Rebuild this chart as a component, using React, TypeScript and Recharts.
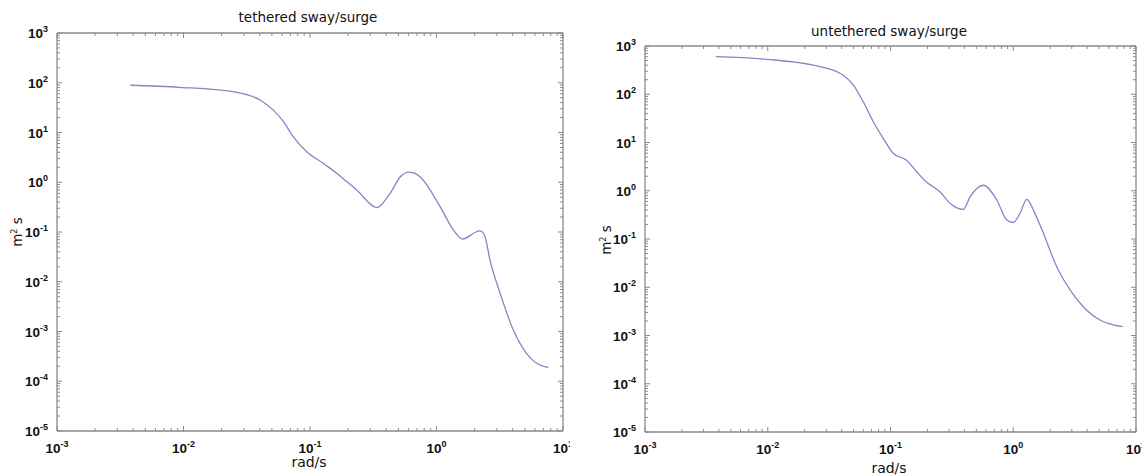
import React from "react";
import { Line, LineChart, XAxis, YAxis } from "recharts";

// Spectra (rad/s vs m^2 s), log-log.
const tetheredFreq = [
  0.0038, 0.0093, 0.0248, 0.0403, 0.0513, 0.0617, 0.0738, 0.0942, 0.127, 0.163,
  0.195, 0.234, 0.337, 0.43, 0.52, 0.6, 0.66, 0.74, 1.07, 1.36, 1.61, 2.05, 2.2,
  2.4, 2.65, 3.18, 4.05, 5.16, 6.19, 7.66,
];
const tetheredPsd = [
  89, 81, 66, 45, 28.2, 16.5, 8.2, 4.1, 2.4, 1.51, 1.03, 0.7, 0.31, 0.6, 1.3,
  1.6, 1.55, 1.29, 0.32, 0.11, 0.072, 0.1, 0.105, 0.085, 0.027, 0.0059,
  0.00107, 0.00036, 0.00023, 0.00019,
];

const untetheredFreq = [
  0.00377, 0.0098, 0.0235, 0.0388, 0.0498, 0.06, 0.0724, 0.0873, 0.105, 0.135,
  0.163, 0.197, 0.223, 0.253, 0.305, 0.392, 0.445, 0.57, 0.733, 0.885, 1.0,
  1.135, 1.29, 1.5, 1.76, 2.26, 2.9, 3.72, 5.09, 6.53, 7.78,
];
const untetheredPsd = [
  600, 530, 400, 272, 155, 70, 27, 12.2, 6.0, 4.3, 2.5, 1.5, 1.21, 0.955, 0.55,
  0.41, 0.75, 1.3, 0.65, 0.248, 0.22, 0.34, 0.665, 0.34, 0.131, 0.0267, 0.0088,
  0.00395, 0.00209, 0.00166, 0.00152,
];

const xDecades = [-3, -2, -1, 0, 1];
const yDecades = [-5, -4, -3, -2, -1, 0, 1, 2, 3];

const FRAME = "#8a8a8a";
const LINE = "#8585c9";

function logTicks(decades: number[]) {
  const out: number[] = [];
  const last = decades[decades.length - 1];
  decades.forEach((e) => {
    for (let m = 1; m <= 9; m++) {
      if (e === last && m > 1) break;
      out.push(m * Math.pow(10, e));
    }
  });
  return out;
}

const xTicks = logTicks(xDecades);
const yTicks = logTicks(yDecades);

function isMajor(v: number) {
  const l = Math.log10(v);
  return Math.abs(l - Math.round(l)) < 1e-6;
}

const tickFont = "'Liberation Sans', Arial, sans-serif";

function makeTick(side: "bottom" | "left" | "top" | "right", labels: boolean) {
  return (props: any) => {
    const { x, y, payload } = props;
    const v = payload.value;
    const major = isMajor(v);
    const len = major ? 5 : 3;
    let line;
    if (side === "bottom") line = <line x1={x} y1={y} x2={x} y2={y - len} />;
    else if (side === "top") line = <line x1={x} y1={y} x2={x} y2={y + len} />;
    else if (side === "left") line = <line x1={x} y1={y} x2={x + len} y2={y} />;
    else line = <line x1={x} y1={y} x2={x - len} y2={y} />;

    let label = null;
    if (labels && major) {
      const exp = Math.round(Math.log10(v));
      const common = { fill: "#111", fontFamily: tickFont, fontWeight: 700, fontSize: 13.5 };
      const pos =
        side === "bottom"
          ? { x, y: y + 22, textAnchor: "middle" }
          : { x: x - 9, y: y + 5, textAnchor: "end" };
      label = (
        <text {...pos} {...common}>
          <tspan>10</tspan>
          <tspan dy={-6} fontSize={9}>{exp}</tspan>
        </text>
      );
    }
    return (
      <g>
        <g stroke={FRAME} strokeWidth={1}>{line}</g>
        {label}
      </g>
    );
  };
}

function SpectrumPlot({
  freq,
  psd,
  width,
  height,
  margin,
}: {
  freq: number[];
  psd: number[];
  width: number;
  height: number;
  margin: { top: number; right: number; bottom: number; left: number };
}) {
  const data = freq.map((f, i) => ({ f, psd: psd[i] }));
  // axes take 1px each, so the chart margins are one less than the plot edges
  const m = {
    top: margin.top - 1,
    right: margin.right - 1,
    bottom: margin.bottom - 1,
    left: margin.left - 1,
  };
  const xCommon = {
    type: "number" as const,
    dataKey: "f",
    scale: "log" as const,
    domain: [1e-3, 10],
    allowDataOverflow: true,
    ticks: xTicks,
    interval: 0,
    tickSize: 0,
    tickMargin: 0,
    height: 1,
    axisLine: { stroke: FRAME, strokeWidth: 1.3 },
    tickLine: false,
  };
  const yCommon = {
    type: "number" as const,
    scale: "log" as const,
    domain: [1e-5, 1e3],
    allowDataOverflow: true,
    ticks: yTicks,
    interval: 0,
    tickSize: 0,
    tickMargin: 0,
    width: 1,
    axisLine: { stroke: FRAME, strokeWidth: 1.3 },
    tickLine: false,
  };
  return (
    <LineChart width={width} height={height} data={data} margin={m}>
      <XAxis xAxisId="b" orientation="bottom" {...xCommon} tick={makeTick("bottom", true)} />
      <XAxis xAxisId="t" orientation="top" {...xCommon} tick={makeTick("top", false)} />
      <YAxis yAxisId="l" orientation="left" dataKey="psd" {...yCommon} tick={makeTick("left", true)} />
      <YAxis yAxisId="r" orientation="right" dataKey="psd" {...yCommon} tick={makeTick("right", false)} />
      <Line
        xAxisId="b"
        yAxisId="l"
        type="monotone"
        dataKey="psd"
        stroke={LINE}
        strokeWidth={1.3}
        dot={false}
        isAnimationActive={false}
      />
      <Line
        xAxisId="t"
        yAxisId="r"
        dataKey="psd"
        stroke="none"
        dot={false}
        legendType="none"
        isAnimationActive={false}
      />
    </LineChart>
  );
}

const textFont = "'DejaVu Sans', Verdana, sans-serif";

function Caption({ cx, cy, text, size, rotate }: { cx: number; cy: number; text: React.ReactNode; size: number; rotate?: boolean }) {
  return (
    <div
      style={{
        position: "absolute",
        left: cx - 80,
        top: cy - 7,
        width: 160,
        height: 14,
        lineHeight: "14px",
        textAlign: "center",
        fontFamily: textFont,
        fontSize: size,
        color: "#111",
        transform: rotate ? "rotate(-90deg)" : undefined,
        whiteSpace: "nowrap",
      }}
    >
      {text}
    </div>
  );
}

const m2s = (
  <span>
    m<sup style={{ fontSize: 8, verticalAlign: 5 }}>2</sup> s
  </span>
);

export default function App() {
  return (
    <div style={{ position: "absolute", left: 0, top: 0, width: 1142, height: 475, background: "#fff" }}>
      <div style={{ position: "absolute", left: 0, top: 0 }}>
        <SpectrumPlot
          freq={tetheredFreq}
          psd={tetheredPsd}
          width={570}
          height={475}
          margin={{ top: 33, right: 7, bottom: 44, left: 57 }}
        />
      </div>
      <div style={{ position: "absolute", left: 570, top: 0 }}>
        <SpectrumPlot
          freq={untetheredFreq}
          psd={untetheredPsd}
          width={572}
          height={475}
          margin={{ top: 46, right: 6, bottom: 43, left: 75 }}
        />
      </div>
      <Caption cx={308} cy={17} text="tethered sway/surge" size={13.5} />
      <Caption cx={889} cy={31} text="untethered sway/surge" size={13.5} />
      <Caption cx={309} cy={462} text="rad/s" size={14} />
      <Caption cx={889} cy={468} text="rad/s" size={14} />
      <Caption cx={15} cy={232} text={m2s} size={13.5} rotate />
      <Caption cx={604} cy={240} text={m2s} size={13.5} rotate />
    </div>
  );
}
